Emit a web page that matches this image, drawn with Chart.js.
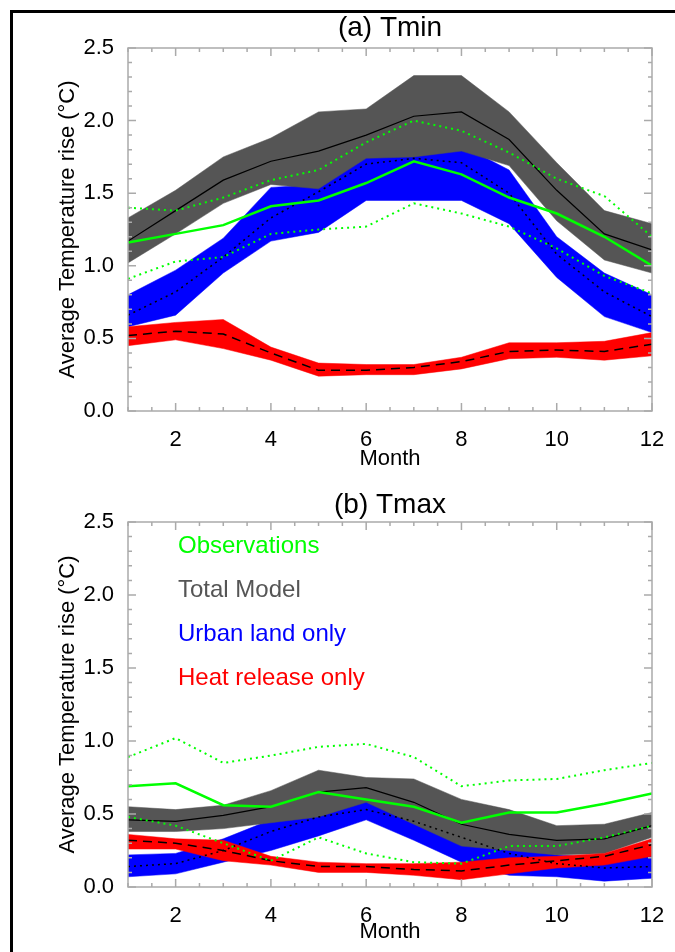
<!DOCTYPE html>
<html>
<head>
<meta charset="utf-8">
<script src="https://cdn.jsdelivr.net/npm/chart.js@4.4.1/dist/chart.umd.min.js"></script>
<style>
body { margin: 0; background: #fff; width: 675px; height: 952px; overflow: hidden; position: relative; }
#frame { position: absolute; left: 10px; top: 10px; width: 700px; height: 1000px; border-top: 3px solid #000; border-left: 3px solid #000; }
canvas { position: absolute; left: 0; }
#c1 { top: 0; }
#c2 { top: 476px; }
</style>
</head>
<body>
<div id="frame"></div>
<canvas id="c1" width="675" height="476"></canvas>
<canvas id="c2" width="675" height="476"></canvas>
<script>
// months and axis ticks
var months = [1, 2, 3, 4, 5, 6, 7, 8, 9, 10, 11, 12];
var xTicks = [2, 4, 6, 8, 10, 12];
var yTicks = [0, 0.5, 1.0, 1.5, 2.0, 2.5];

// (a) Tmin
var aObs      = [1.16, 1.22, 1.28, 1.41, 1.45, 1.57, 1.72, 1.63, 1.47, 1.36, 1.20, 1.00];
var aObsHigh  = [1.40, 1.38, 1.47, 1.59, 1.66, 1.85, 2.00, 1.93, 1.78, 1.60, 1.48, 1.20];
var aObsLow   = [0.91, 1.03, 1.06, 1.22, 1.25, 1.27, 1.43, 1.36, 1.27, 1.12, 0.93, 0.81];
var aModel     = [1.17, 1.38, 1.59, 1.72, 1.79, 1.90, 2.03, 2.06, 1.87, 1.52, 1.22, 1.11];
var aModelHigh = [1.33, 1.52, 1.75, 1.88, 2.06, 2.08, 2.31, 2.31, 2.06, 1.71, 1.38, 1.29];
var aModelLow  = [1.02, 1.22, 1.43, 1.56, 1.53, 1.74, 1.75, 1.79, 1.69, 1.31, 1.04, 0.95];
var aUrban     = [0.66, 0.82, 1.06, 1.33, 1.51, 1.70, 1.74, 1.71, 1.50, 1.08, 0.82, 0.65];
var aUrbanHigh = [0.80, 0.97, 1.19, 1.54, 1.56, 1.78, 1.80, 1.83, 1.66, 1.20, 0.95, 0.80];
var aUrbanLow  = [0.58, 0.66, 0.95, 1.17, 1.23, 1.45, 1.45, 1.45, 1.29, 0.92, 0.65, 0.54];
var aHeat     = [0.52, 0.55, 0.53, 0.40, 0.28, 0.28, 0.30, 0.34, 0.41, 0.42, 0.41, 0.46];
var aHeatHigh = [0.58, 0.61, 0.63, 0.44, 0.33, 0.32, 0.32, 0.37, 0.47, 0.47, 0.48, 0.54];
var aHeatLow  = [0.45, 0.49, 0.43, 0.35, 0.24, 0.25, 0.25, 0.29, 0.36, 0.37, 0.35, 0.38];

// (b) Tmax
var bObs      = [0.69, 0.71, 0.56, 0.55, 0.65, 0.60, 0.55, 0.44, 0.51, 0.51, 0.57, 0.64];
var bObsHigh  = [0.89, 1.02, 0.85, 0.90, 0.96, 0.98, 0.89, 0.69, 0.73, 0.74, 0.80, 0.85];
var bObsLow   = [0.48, 0.42, 0.30, 0.18, 0.34, 0.23, 0.17, 0.16, 0.28, 0.28, 0.34, 0.42];
var bModel     = [0.46, 0.45, 0.49, 0.55, 0.65, 0.68, 0.58, 0.43, 0.36, 0.32, 0.33, 0.42];
var bModelHigh = [0.55, 0.53, 0.56, 0.66, 0.80, 0.75, 0.74, 0.60, 0.53, 0.42, 0.43, 0.51];
var bModelLow  = [0.38, 0.38, 0.40, 0.44, 0.48, 0.58, 0.43, 0.28, 0.25, 0.22, 0.23, 0.34];
var bUrban     = [0.14, 0.16, 0.25, 0.38, 0.48, 0.53, 0.45, 0.34, 0.23, 0.16, 0.13, 0.14];
var bUrbanHigh = [0.22, 0.23, 0.33, 0.46, 0.54, 0.60, 0.52, 0.40, 0.30, 0.22, 0.20, 0.22];
var bUrbanLow  = [0.07, 0.09, 0.17, 0.25, 0.35, 0.46, 0.32, 0.17, 0.08, 0.07, 0.04, 0.06];
var bHeat     = [0.32, 0.30, 0.25, 0.18, 0.14, 0.14, 0.12, 0.11, 0.15, 0.18, 0.21, 0.29];
var bHeatHigh = [0.36, 0.33, 0.32, 0.21, 0.17, 0.16, 0.16, 0.17, 0.20, 0.21, 0.23, 0.33];
var bHeatLow  = [0.26, 0.26, 0.18, 0.15, 0.10, 0.10, 0.08, 0.05, 0.09, 0.13, 0.15, 0.21];

var legendNames = ["Observations", "Total Model", "Urban land only", "Heat release only"];

var GREEN = "#00ff00", GRAY = "#555555", BLUE = "#0000ff", RED = "#ff0000";
var legendColors = [GREEN, GRAY, BLUE, RED];

Chart.defaults.font.family = "'Liberation Sans', Arial, sans-serif";
Chart.defaults.color = "#000";

// gray IDL style box with inward ticks
var axisBox = {
    id: 'axisBox',
    afterDatasetsDraw(chart) {
        var ctx = chart.ctx, a = chart.chartArea;
        var x = chart.scales.x, y = chart.scales.y;
        ctx.save();
        ctx.strokeStyle = "#aaaaaa";
        ctx.lineWidth = 1.5;
        ctx.strokeRect(a.left, a.top, a.right - a.left, a.bottom - a.top);
        ctx.beginPath();
        for (var m = 1; m <= 12; m += 0.5) {
            var px = x.getPixelForValue(m);
            var len = (m % 2 === 0) ? 8 : 4;
            ctx.moveTo(px, a.bottom); ctx.lineTo(px, a.bottom - len);
            ctx.moveTo(px, a.top); ctx.lineTo(px, a.top + len);
        }
        for (var i = 0; i <= 25; i++) {
            var py = y.getPixelForValue(i / 10);
            var l2 = (i % 5 === 0) ? 8 : 4;
            ctx.moveTo(a.left, py); ctx.lineTo(a.left + l2, py);
            ctx.moveTo(a.right, py); ctx.lineTo(a.right - l2, py);
        }
        ctx.stroke();
        ctx.restore();
    }
};

function line(data, color, width, dash, order) {
    return { data: data, borderColor: color, borderWidth: width, borderDash: dash,
             pointRadius: 0, fill: false, tension: 0, order: order };
}

function band(hi, lo, color, order) {
    return [
        { data: hi, borderColor: color, borderWidth: 0.5, pointRadius: 0, fill: '+1', backgroundColor: color, order: order },
        { data: lo, borderColor: color, borderWidth: 0.5, pointRadius: 0, fill: false, order: order }
    ];
}

function makePanel(id, title, s, p) {
    var datasets = [
        line(s.obs, GREEN, 2.5, [], 0),
        line(s.obsHigh, GREEN, 2, [2, 4], 1),
        line(s.obsLow, GREEN, 2, [2, 4], 1),
        line(s.model, "#000", 1.2, [], 2),
        line(s.urban, "#000", 1.5, [2, 4], 2),
        line(s.heat, "#000", 1.5, [9, 6], 2)
    ].concat(band(s.heatHigh, s.heatLow, RED, 10))
     .concat(band(s.modelHigh, s.modelLow, GRAY, 20))
     .concat(band(s.urbanHigh, s.urbanLow, BLUE, 30));

    return new Chart(document.getElementById(id), {
        type: 'line',
        data: { labels: months, datasets: datasets },
        plugins: [axisBox],
        options: {
            responsive: false,
            animation: false,
            events: [],
            layout: { padding: { left: 0, right: 23, top: 0, bottom: 0 } },
            plugins: {
                title: {
                    display: true, text: title, fullSize: false,
                    font: { size: 28, weight: 'normal' }, color: "#000",
                    padding: { top: p.titleTop, bottom: p.titleBottom }
                },
                legend: p.legend ? {
                    display: true, position: 'chartArea', align: 'start',
                    // empty legend title only pushes the items down into the plot
                    title: { display: true, text: ' ', font: { size: 10 }, padding: { top: 34, bottom: 0 } },
                    labels: {
                        boxWidth: 34, boxHeight: 40, padding: 4, font: { size: 24 },
                        generateLabels: function () {
                            return legendNames.map(function (t, i) {
                                return { text: t, fontColor: legendColors[i], fillStyle: 'rgba(0,0,0,0)',
                                         strokeStyle: 'rgba(0,0,0,0)', lineWidth: 0, hidden: false, datasetIndex: i };
                            });
                        }
                    }
                } : { display: false },
                tooltip: { enabled: false }
            },
            scales: {
                x: {
                    type: 'linear', min: 1, max: 12,
                    grid: { display: false }, border: { display: false },
                    afterBuildTicks: function (sc) { sc.ticks = xTicks.map(function (v) { return { value: v }; }); },
                    afterFit: function (sc) { sc.height = 65; },
                    ticks: { font: { size: 22 }, color: "#000", padding: 8, maxRotation: 0, autoSkip: false },
                    title: { display: true, text: 'Month', font: { size: 22 }, color: "#000",
                             padding: { top: 0, bottom: p.monthPad } }
                },
                y: {
                    min: 0, max: 2.5,
                    grid: { display: false }, border: { display: false },
                    afterBuildTicks: function (sc) { sc.ticks = yTicks.map(function (v) { return { value: v }; }); },
                    afterFit: function (sc) { sc.width = 128; },
                    ticks: { font: { size: 22 }, color: "#000", padding: 6,
                             callback: function (v) { return v.toFixed(1); } },
                    title: { display: true, text: 'Average Temperature rise (°C)', font: { size: 22 }, color: "#000",
                             padding: { top: 55, bottom: 0 } }
                }
            }
        }
    });
}

makePanel('c1', '(a) Tmin', {
    obs: aObs, obsHigh: aObsHigh, obsLow: aObsLow,
    model: aModel, modelHigh: aModelHigh, modelLow: aModelLow,
    urban: aUrban, urbanHigh: aUrbanHigh, urbanLow: aUrbanLow,
    heat: aHeat, heatHigh: aHeatHigh, heatLow: aHeatLow
}, { titleTop: 11, titleBottom: 3.4, monthPad: 4, legend: false });

makePanel('c2', '(b) Tmax', {
    obs: bObs, obsHigh: bObsHigh, obsLow: bObsLow,
    model: bModel, modelHigh: bModelHigh, modelLow: bModelLow,
    urban: bUrban, urbanHigh: bUrbanHigh, urbanLow: bUrbanLow,
    heat: bHeat, heatHigh: bHeatHigh, heatLow: bHeatLow
}, { titleTop: 12.4, titleBottom: 0, monthPad: 7, legend: true });
</script>
</body>
</html>
